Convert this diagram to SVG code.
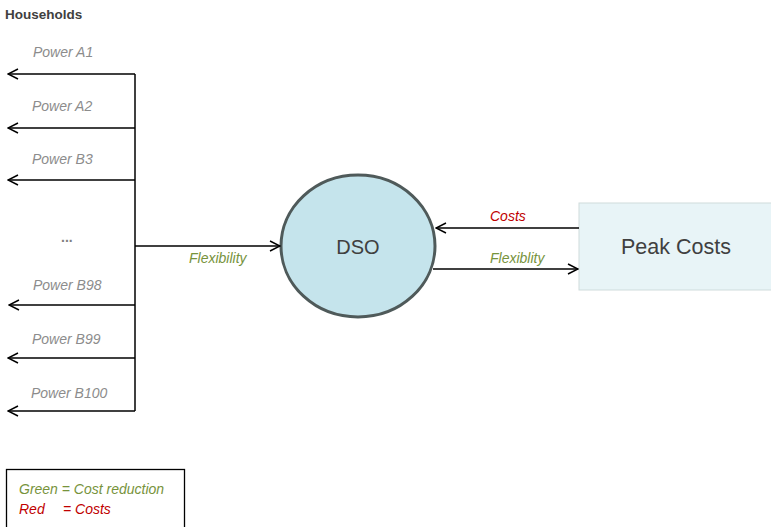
<svg xmlns="http://www.w3.org/2000/svg" width="771" height="527" viewBox="0 0 771 527">
  <defs>
    <marker id="open" viewBox="0 0 12 12" refX="11" refY="6" markerWidth="12" markerHeight="12" markerUnits="userSpaceOnUse" orient="auto">
      <path d="M1,1 L11,6 L1,11" fill="none" stroke="#000" stroke-width="1.5"/>
    </marker>
    <style>
      text { font-family: "Liberation Sans", Arial, sans-serif; }
      .lbl { font-size: 14px; font-style: italic; fill: #8c8c8c; }
      .grn { font-size: 14px; font-style: italic; fill: #77933c; }
      .red { font-size: 14px; font-style: italic; fill: #c00000; }
      .wire { fill: none; stroke: #000; stroke-width: 1.5; }
      .arr { fill: none; stroke: #000; stroke-width: 1.5; marker-end: url(#open); }
    </style>
  </defs>
  <rect width="771" height="527" fill="#fff"/>

  <g id="households">
    <text x="5" y="19" font-size="13.5" font-weight="bold" fill="#404040">Households</text>
    <text class="lbl" x="33" y="57">Power A1</text>
    <text class="lbl" x="32" y="111">Power A2</text>
    <text class="lbl" x="32" y="164">Power B3</text>
    <text x="61" y="242" font-size="14" font-weight="bold" fill="#7f7f7f">...</text>
    <text class="lbl" x="33" y="290">Power B98</text>
    <text class="lbl" x="32" y="344">Power B99</text>
    <text class="lbl" x="31" y="398">Power B100</text>
  </g>

  <g id="dso">
    <ellipse cx="358" cy="246" rx="77" ry="71" fill="#c5e4ec" stroke="#4f5a5a" stroke-width="3"/>
    <text x="358" y="254" font-size="20" fill="#404040" text-anchor="middle">DSO</text>
  </g>

  <g id="peak-costs">
    <rect x="579" y="203" width="193" height="87" fill="#e8f4f7" stroke="#cfdcdc" stroke-width="1"/>
    <text x="676" y="254" font-size="21.5" fill="#404040" text-anchor="middle">Peak Costs</text>
  </g>

  <g id="legend">
    <rect x="6.5" y="469.5" width="178" height="70" fill="#fff" stroke="#000" stroke-width="1.3"/>
    <text class="grn" x="19" y="494">Green = Cost reduction</text>
    <text class="red" x="19" y="514">Red</text>
    <text class="red" x="63" y="514">= Costs</text>
  </g>

  <g id="connectors">
    <path class="wire" d="M135,74 V411"/>
    <path class="arr" d="M135,74 H8"/>
    <path class="arr" d="M135,128 H8"/>
    <path class="arr" d="M135,180 H8"/>
    <path class="arr" d="M135,305 H9"/>
    <path class="arr" d="M135,358 H8"/>
    <path class="arr" d="M135,411 H8"/>
    <path class="arr" d="M135,246 H280"/>
    <path class="arr" d="M579,228 H436"/>
    <path class="arr" d="M433,269 H578"/>
    <text class="grn" x="189" y="263">Flexibility</text>
    <text class="red" x="490" y="221">Costs</text>
    <text class="grn" x="490" y="263">Flexiblity</text>
  </g>
</svg>
